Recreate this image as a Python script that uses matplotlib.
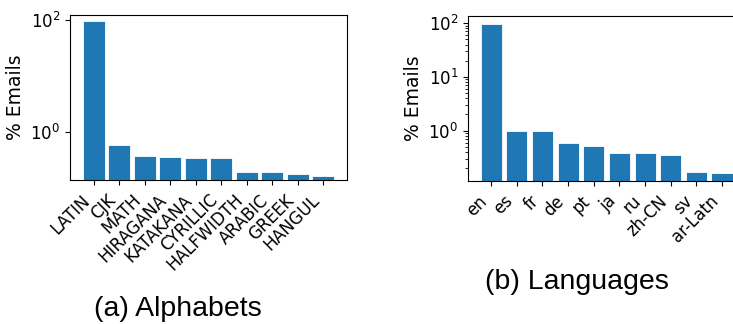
import matplotlib.pyplot as plt
from matplotlib.ticker import LogLocator, NullLocator

plt.rcParams["font.family"] = ["DejaVu Sans"]

# data
alphabets = ["LATIN", "CJK", "MATH", "HIRAGANA", "KATAKANA", "CYRILLIC",
             "HALFWIDTH", "ARABIC", "GREEK", "HANGUL"]
alphabet_pct = [97.0, 0.57, 0.37, 0.35, 0.34, 0.34, 0.19, 0.19, 0.176, 0.165]

languages = ["en", "es", "fr", "de", "pt", "ja", "ru", "zh-CN", "sv", "ar-Latn"]
language_pct = [96.0, 0.98, 0.98, 0.58, 0.51, 0.38, 0.38, 0.35, 0.17, 0.16]

BLUE = "#1f77b4"

fig = plt.figure(figsize=(7.33, 3.24), dpi=100)

# left panel: alphabets
ax1 = fig.add_axes([0.0955, 0.4444, 0.378, 0.510])
ax1.bar(range(len(alphabets)), alphabet_pct, width=0.86, color=BLUE,
        edgecolor="white", linewidth=0.6)
ax1.set_yscale("log")
ax1.set_ylim(0.137, 125)
ax1.set_xlim(-0.93, len(alphabets) - 1 + 0.93)
ax1.yaxis.set_major_locator(LogLocator(base=100))
ax1.yaxis.set_minor_locator(NullLocator())
ax1.set_xticks(range(len(alphabets)))
ax1.set_xticklabels(alphabets, rotation=45, ha="right", fontsize=12)
ax1.tick_params(axis="y", labelsize=12)
ax1.tick_params(axis="x", pad=4.5)
ax1.set_ylabel("% Emails", fontsize=13.5)
ax1.yaxis.set_label_coords(-0.163, 0.5)

# right panel: languages (right edge runs past the figure, as in the reference)
ax2 = fig.add_axes([0.6385, 0.4414, 0.378, 0.510])
ax2.bar(range(len(languages)), language_pct, width=0.82, color=BLUE,
        edgecolor="white", linewidth=0.6)
ax2.set_yscale("log")
ax2.set_ylim(0.116, 137)
ax2.set_xlim(-0.9, len(languages) - 1 + 0.9)
ax2.yaxis.set_major_locator(LogLocator(base=10))
ax2.yaxis.set_minor_locator(LogLocator(base=10, subs=range(2, 10)))
ax2.set_xticks(range(len(languages)))
ax2.set_xticklabels(languages, rotation=45, ha="right", fontsize=12)
ax2.tick_params(axis="y", labelsize=12)
ax2.tick_params(axis="x", pad=4.5)
ax2.set_ylabel("% Emails", fontsize=13.5)
ax2.yaxis.set_label_coords(-0.162, 0.5)

cap = dict(fontsize=20.5, family="Liberation Sans", ha="center", va="center")
fig.text(178 / 733, 1 - 309 / 324, "(a) Alphabets", **cap)
fig.text(577 / 733, 1 - 282 / 324, "(b) Languages", **cap)

fig.savefig("out.png", dpi=100)
